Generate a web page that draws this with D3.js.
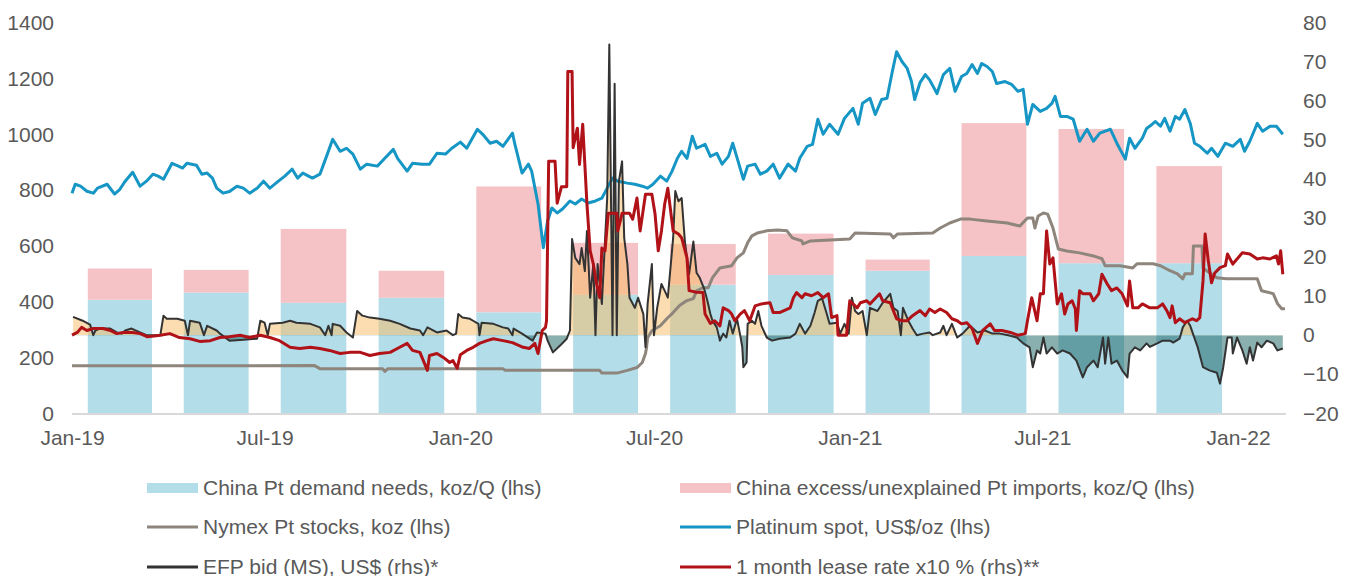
<!DOCTYPE html>
<html>
<head>
<meta charset="utf-8">
<script src="https://cdn.jsdelivr.net/npm/d3@7"></script>
<style>
  body { margin: 0; background: #fff; }
  text { font-family: "Liberation Sans", Arial, sans-serif; fill: #595959; }
</style>
</head>
<body>
<div id="chart"></div>
<script>
// all series dates are given as days since 1 Jan 2019
const startDate = new Date(2019, 0, 1);

// quarterly bars (koz/Q, lhs)
const quarters = ['2019-01-01','2019-04-01','2019-07-01','2019-10-01','2020-01-01','2020-04-01',
                  '2020-07-01','2020-10-01','2021-01-01','2021-04-01','2021-07-01','2021-10-01'];
const demandNeeds = [407, 433, 396, 414, 362, 425, 461, 496, 511, 564, 538, 538];
const excessImports = [112, 81, 265, 97, 451, 186, 146, 148, 40, 476, 481, 348];

// Platinum spot, US$/oz (lhs)
const spotSeries = [[0,789],[3,821],[8,814],[14,796],[20,789],[24,807],[33,821],[40,786],[45,803],[50,832],[57,864],[64,814],[70,832],[76,857],[81,850],[86,839],[94,896],[100,886],[104,879],[108,896],[117,889],[122,857],[127,861],[132,843],[136,807],[142,789],[148,795],[155,814],[161,807],[167,789],[174,807],[180,832],[186,807],[194,832],[200,850],[207,875],[212,843],[217,861],[226,843],[233,857],[240,929],[245,982],[252,939],[258,950],[264,929],[271,875],[277,893],[287,886],[294,914],[302,946],[306,914],[315,868],[320,896],[329,893],[336,893],[343,932],[351,929],[357,950],[365,972],[371,950],[381,1018],[386,1000],[393,968],[399,975],[405,957],[414,1004],[416,968],[423,861],[429,893],[432,868],[438,750],[443,593],[447,689],[451,736],[456,718],[461,732],[468,761],[473,750],[479,768],[485,754],[492,761],[498,771],[503,807],[508,843],[513,832],[522,825],[529,821],[536,814],[541,807],[546,821],[553,850],[559,832],[564,868],[569,914],[573,939],[578,914],[583,993],[587,950],[595,964],[600,921],[606,932],[611,893],[617,921],[621,968],[626,904],[631,839],[635,886],[642,893],[647,857],[653,868],[659,893],[665,843],[673,893],[680,868],[684,914],[691,957],[696,964],[701,1054],[706,1000],[712,1036],[720,1000],[726,1057],[734,1093],[739,1036],[743,1111],[750,1129],[755,1071],[761,1125],[766,1129],[771,1225],[775,1296],[780,1261],[785,1236],[789,1189],[792,1125],[797,1185],[802,1214],[806,1195],[813,1146],[819,1214],[825,1236],[830,1154],[836,1207],[841,1218],[846,1250],[851,1218],[855,1254],[860,1243],[865,1225],[869,1182],[877,1189],[883,1179],[889,1154],[894,1161],[898,1036],[903,1107],[910,1082],[916,1093],[921,1111],[924,1136],[929,1064],[935,1064],[941,1054],[947,975],[954,1018],[960,975],[966,1004],[976,1018],[982,968],[990,911],[994,986],[999,950],[1006,986],[1010,1021],[1015,1035],[1018,1046],[1023,1029],[1027,1057],[1032,1011],[1037,1064],[1041,1054],[1046,1089],[1051,1039],[1055,968],[1060,957],[1067,932],[1071,950],[1077,921],[1084,968],[1091,957],[1098,982],[1102,939],[1107,975],[1114,1039],[1119,1011],[1126,1029],[1132,1029],[1138,1000]];

// Nymex Pt stocks, koz (lhs)
const nymexSeries = [[0,170],[228,171],[233,160],[292,160],[294,150],[297,160],[405,160],[407,154],[496,154],[498,144],[512,144],[522,154],[531,164],[536,182],[539,214],[540,236],[541,271],[545,296],[553,314],[559,339],[565,361],[571,386],[578,404],[584,411],[587,439],[593,450],[598,450],[602,486],[609,521],[620,529],[625,557],[631,575],[635,611],[639,636],[644,646],[653,654],[663,657],[672,654],[677,629],[686,618],[687,607],[694,618],[731,625],[736,646],[769,643],[772,629],[776,643],[809,646],[816,664],[825,682],[835,696],[844,696],[860,689],[879,682],[891,671],[898,700],[903,700],[905,664],[908,707],[913,718],[917,714],[922,664],[927,589],[935,582],[947,575],[960,564],[968,554],[971,529],[985,529],[997,521],[1001,536],[1016,536],[1023,529],[1032,511],[1039,500],[1044,482],[1046,500],[1053,500],[1054,600],[1062,600],[1063,521],[1069,504],[1076,486],[1085,482],[1114,482],[1118,439],[1129,429],[1133,393],[1137,375],[1140,375]];

// EFP bid (MS), US$ (rhs)
const efpSeries = [[1,4.7],[10,3.7],[17,2.7],[20,0],[22,1.2],[26,1.7],[36,1.7],[42,0.7],[47,0.4],[50,1.2],[56,1.7],[64,0.7],[70,0],[83,0],[86,5],[89,4.2],[99,4.2],[106,3.7],[109,0],[111,3.7],[120,3.2],[124,0],[127,2.4],[136,1.2],[139,0.4],[148,-1.4],[161,-1.2],[174,-0.9],[177,3.7],[181,3.2],[184,0],[186,2.9],[198,3.2],[205,3.7],[211,3.2],[224,2.9],[233,2],[238,0],[241,2.4],[244,0],[245,2.9],[252,2.4],[258,0.7],[264,-0.6],[268,6.2],[273,5],[280,4.5],[289,4.2],[299,3.7],[308,2.9],[318,1.7],[327,1.2],[330,0],[334,2],[343,0.7],[352,1.2],[358,0],[361,0.4],[363,5.4],[367,4.5],[374,4.2],[377,3.7],[382,2.9],[383,0],[385,3.2],[396,2.9],[405,2],[410,1.7],[414,0],[415,1.7],[423,0.4],[430,-0.9],[433,-1.4],[437,0.7],[445,0.4],[447,-1.4],[452,-4.4],[459,-2.6],[465,-0.9],[468,1.2],[470,24.6],[473,19.8],[477,18.2],[479,22.3],[482,16.4],[484,26.7],[487,9.6],[490,18.2],[492,0],[494,18.2],[498,8],[500,19],[503,35.1],[505,74.4],[508,0],[510,64.4],[512,0],[514,39.4],[517,44.5],[519,24.9],[522,18.2],[524,9.6],[529,7],[532,9.6],[537,5.4],[539,-3.1],[541,8],[545,18.2],[547,0],[550,7],[554,13.1],[557,11.4],[560,9.6],[565,24.9],[567,36.9],[570,34.3],[573,35.1],[576,24.1],[580,15.6],[584,24],[587,16],[590,14.7],[594,12],[597,9],[600,5.4],[602,3.7],[606,2],[609,-1.4],[612,0.4],[615,-0.6],[618,3.7],[621,0.4],[625,4.2],[628,0],[630,-3.1],[631,-8.2],[634,-7],[635,2.9],[639,3.7],[642,2.9],[645,6.2],[648,2.4],[653,-0.6],[658,-1.4],[665,-0.9],[675,-0.6],[680,0.4],[684,2.9],[689,0.4],[694,2.4],[698,5.8],[701,8.8],[705,9.4],[709,5.8],[712,2.9],[719,3.2],[722,0.4],[726,2.9],[730,0.4],[733,9.6],[736,6.2],[739,5.4],[743,6.2],[747,0],[750,7],[757,6.2],[762,8.3],[769,10.6],[772,7],[776,6.2],[779,0],[781,7],[786,3.7],[790,1.7],[794,0],[800,0.4],[806,0.7],[809,0],[816,0.7],[819,2.4],[822,0],[827,2.9],[832,-0.6],[837,0.4],[844,2.4],[851,0.7],[858,1.2],[865,0.4],[872,0.4],[880,0],[888,-0.6],[894,-2.1],[900,-3.1],[903,-8.2],[907,-3.9],[910,-4.7],[913,-0.6],[916,-4.7],[921,-3.1],[926,-4.7],[931,-3.9],[938,-4.7],[944,-6.5],[950,-10.8],[954,-8.2],[960,-6.5],[964,-8.2],[969,-0.6],[971,-7.3],[974,-0.6],[977,-7.3],[982,-6.5],[987,-9],[992,-10.8],[994,-4.7],[999,-3.1],[1004,-3.9],[1010,-2.1],[1013,-3],[1020,-2.1],[1025,-1.4],[1032,-1.4],[1035,-1.9],[1041,-0.9],[1044,2],[1048,3.7],[1051,2.4],[1054,0],[1058,-3.1],[1063,-8.2],[1069,-9],[1076,-9.6],[1079,-12.4],[1082,-8.2],[1086,-0.6],[1090,-0.6],[1091,-4.7],[1095,-0.6],[1100,-3.9],[1104,-7.3],[1107,-3.1],[1110,-6.5],[1114,-1.9],[1118,-3.1],[1123,-1.4],[1129,-2.1],[1133,-3.9],[1138,-3.4]];

// 1 month lease rate x10 % (rhs)
const leaseSeries = [[0,0],[5,0.7],[9,2],[14,1.2],[20,1.7],[29,1.7],[36,1.2],[42,0.4],[48,0.7],[57,0.7],[64,0.4],[71,-0.4],[83,0],[92,0.4],[101,-0.6],[111,-0.9],[120,-1.6],[130,-1.4],[139,-0.6],[148,-0.4],[158,0],[167,-0.6],[177,0],[186,-0.6],[195,-1.4],[205,-3.1],[214,-3.4],[224,-3.1],[233,-3.4],[242,-3.9],[252,-4.7],[261,-4.4],[271,-4.4],[280,-5.2],[289,-4.7],[299,-4.4],[308,-3.1],[315,-2.1],[320,-3.9],[327,-4.4],[334,-9],[336,-5.2],[343,-4.7],[349,-5.7],[355,-7],[358,-6.5],[362,-8.5],[365,-5],[371,-3.9],[377,-3.1],[383,-2.1],[390,-1.4],[396,-0.9],[405,-1.4],[414,-1.9],[424,-3.1],[430,-3.4],[435,-2.1],[438,-4.7],[442,1.2],[445,2],[446,3.7],[448,44.5],[454,44.5],[456,33.8],[460,38],[465,38],[466,67.5],[470,67.5],[471,48],[475,53],[477,43.7],[480,54],[484,33.5],[487,21.6],[490,18.2],[493,13.1],[496,9.6],[498,22.3],[501,21.6],[504,31.2],[512,31.2],[513,26.7],[517,31.2],[524,31.2],[527,29.7],[531,35.1],[534,26.7],[539,36.1],[545,36.1],[548,31],[551,21.6],[554,26.7],[557,33.5],[560,37.6],[565,26.7],[570,25.9],[573,24.9],[578,19.8],[580,11.4],[587,11],[593,10.9],[595,5.4],[600,3],[604,3.7],[609,2.4],[612,7],[617,6.3],[620,5.4],[623,3.7],[628,5.4],[632,6.3],[637,3.7],[642,7.5],[648,8],[656,8.3],[659,5.8],[665,5.8],[675,7],[678,9.6],[681,10.9],[686,9.6],[689,10.6],[695,10.1],[701,10.9],[706,9.6],[711,10.6],[714,4.5],[719,5],[720,0],[728,0],[731,8.8],[738,7],[741,8.3],[747,8.8],[750,8],[759,10.6],[762,8.8],[769,8.3],[775,4.2],[780,3.7],[785,3.7],[790,5],[797,6.3],[802,5],[806,6.7],[811,5.8],[816,6.7],[822,5.8],[827,4.2],[832,3.7],[836,2.9],[841,3.2],[846,1.7],[851,-2.1],[856,1.2],[863,2.9],[867,1.2],[874,1.2],[882,0.7],[889,0],[896,0.4],[898,3.7],[902,9.6],[907,3.7],[910,10.6],[913,10.6],[916,26.7],[919,18.2],[922,19.8],[926,8],[930,10.6],[933,5.4],[936,8],[940,8.8],[943,6.7],[944,1.2],[947,11.4],[950,10.6],[957,10.6],[960,8.8],[965,10.6],[968,15.6],[973,13.1],[977,11.4],[982,12.1],[987,10.6],[992,7.5],[994,13.9],[997,7],[1002,7],[1006,8],[1013,7],[1020,7],[1025,8],[1029,6.3],[1032,4.5],[1034,7.5],[1037,3.2],[1041,4.2],[1046,3.2],[1053,4.2],[1057,3.7],[1060,4.5],[1063,13.9],[1065,25.9],[1068,19],[1071,13.4],[1074,15.9],[1079,17.3],[1084,17.8],[1086,20.8],[1091,18.2],[1100,21.1],[1107,20.8],[1114,19.5],[1119,19.8],[1126,19.5],[1132,20.3],[1134,18.2],[1136,21.6],[1138,15.6]];

const lhsTicks = [0, 200, 400, 600, 800, 1000, 1200, 1400];
const rhsTicks = [-20, -10, 0, 10, 20, 30, 40, 50, 60, 70, 80];

const legendItems = [
  {label: 'China Pt demand needs, koz/Q (lhs)', type: 'bar', color: '#b3dde9'},
  {label: 'China excess/unexplained Pt imports, koz/Q (lhs)', type: 'bar', color: '#f5c2c5'},
  {label: 'Nymex Pt stocks, koz (lhs)', type: 'line', color: '#8e857c'},
  {label: 'Platinum spot, US$/oz (lhs)', type: 'line', color: '#1696c4'},
  {label: 'EFP bid (MS), US$ (rhs)*', type: 'line', color: '#333333'},
  {label: '1 month lease rate x10 % (rhs)**', type: 'line', color: '#b01218'}
];

const width = 1347;
const height = 576;
const parseDate = d3.timeParse('%Y-%m-%d');
const dayToDate = n => d3.timeDay.offset(startDate, n);

const svg = d3.select('#chart').append('svg')
  .attr('width', width).attr('height', height);

const x = d3.scaleTime()
  .domain([startDate, dayToDate(1141)])
  .range([72, 1286]);
const yL = d3.scaleLinear().domain([0, 1400]).range([413.3, 22.7]);
const yR = d3.scaleLinear().domain([-20, 80]).range([413.3, 22.7]);

// quarterly stacked bars
const barData = quarters.map((q, i) => {
  const qs = parseDate(q);
  return {start: qs, end: d3.timeMonth.offset(qs, 3), demand: demandNeeds[i], excess: excessImports[i]};
});
const bars = svg.append('g').attr('class', 'bars');
bars.selectAll('rect.demand')
  .data(barData).enter().append('rect')
  .attr('class', 'demand')
  .attr('x', d => x(d.start) + (x(d.end) - x(d.start)) * 0.165)
  .attr('width', d => (x(d.end) - x(d.start)) * 0.67)
  .attr('y', d => yL(d.demand))
  .attr('height', d => yL(0) - yL(d.demand))
  .attr('fill', '#b3dde9');
bars.selectAll('rect.excess')
  .data(barData).enter().append('rect')
  .attr('class', 'excess')
  .attr('x', d => x(d.start) + (x(d.end) - x(d.start)) * 0.165)
  .attr('width', d => (x(d.end) - x(d.start)) * 0.67)
  .attr('y', d => yL(d.demand + d.excess))
  .attr('height', d => yL(d.demand) - yL(d.demand + d.excess))
  .attr('fill', '#f5c2c5');

// EFP shaded area: above zero tan, below zero teal
const defs = svg.append('defs');
defs.append('clipPath').attr('id', 'clip-pos')
  .append('rect').attr('x', 0).attr('y', 0).attr('width', width).attr('height', yR(0));
defs.append('clipPath').attr('id', 'clip-neg')
  .append('rect').attr('x', 0).attr('y', yR(0)).attr('width', width).attr('height', height - yR(0));

const efpArea = d3.area()
  .x(d => x(dayToDate(d[0])))
  .y0(yR(0))
  .y1(d => yR(d[1]));
svg.append('path').datum(efpSeries)
  .attr('d', efpArea)
  .attr('clip-path', 'url(#clip-pos)')
  .attr('fill', 'rgba(250,188,100,0.5)');
svg.append('path').datum(efpSeries)
  .attr('d', efpArea)
  .attr('clip-path', 'url(#clip-neg)')
  .attr('fill', 'rgba(20,95,95,0.5)');

// x axis base line
svg.append('line')
  .attr('x1', 72).attr('x2', 1286)
  .attr('y1', 414).attr('y2', 414)
  .attr('stroke', '#d9d9d9').attr('stroke-width', 2);

// lines
const lineL = d3.line().x(d => x(dayToDate(d[0]))).y(d => yL(d[1]));
const lineR = d3.line().x(d => x(dayToDate(d[0]))).y(d => yR(d[1]));

svg.append('path').datum(nymexSeries)
  .attr('d', lineL).attr('fill', 'none')
  .attr('stroke', '#8e857c').attr('stroke-width', 3).attr('stroke-linejoin', 'round');
svg.append('path').datum(spotSeries)
  .attr('d', lineL).attr('fill', 'none')
  .attr('stroke', '#1696c4').attr('stroke-width', 3).attr('stroke-linejoin', 'round');
svg.append('path').datum(efpSeries)
  .attr('d', lineR).attr('fill', 'none')
  .attr('stroke', '#333333').attr('stroke-width', 2).attr('stroke-linejoin', 'round');
svg.append('path').datum(leaseSeries)
  .attr('d', lineR).attr('fill', 'none')
  .attr('stroke', '#b01218').attr('stroke-width', 3).attr('stroke-linejoin', 'round');

// axes
const leftAxis = svg.append('g')
  .attr('transform', 'translate(72,0)')
  .call(d3.axisLeft(yL).tickValues(lhsTicks).tickSize(0).tickPadding(18).tickFormat(d3.format('d')));
const rightAxis = svg.append('g')
  .attr('transform', 'translate(1286,0)')
  .call(d3.axisRight(yR).tickValues(rhsTicks).tickSize(0).tickPadding(17).tickFormat(d3.format('d')));
const bottomAxis = svg.append('g')
  .attr('transform', 'translate(0,413)')
  .call(d3.axisBottom(x).ticks(d3.timeMonth.every(6)).tickSize(0).tickPadding(17).tickFormat(d3.timeFormat('%b-%y')));

[leftAxis, rightAxis, bottomAxis].forEach(g => {
  g.select('.domain').remove();
  g.selectAll('text').attr('font-size', 21).attr('font-family', '"Liberation Sans", Arial, sans-serif').attr('fill', '#595959');
});

// legend
const legend = svg.append('g').attr('class', 'legend');
const legendCols = [147, 680];
const legendRows = [488, 527, 567];
legendItems.forEach((item, i) => {
  const lx = legendCols[i % 2];
  const ly = legendRows[Math.floor(i / 2)];
  if (item.type === 'bar') {
    legend.append('rect')
      .attr('x', lx).attr('y', ly - 5).attr('width', 51).attr('height', 10)
      .attr('fill', item.color);
  } else {
    legend.append('line')
      .attr('x1', lx).attr('x2', lx + 51).attr('y1', ly).attr('y2', ly)
      .attr('stroke', item.color).attr('stroke-width', 3);
  }
  legend.append('text')
    .attr('x', lx + 56).attr('y', ly)
    .attr('dy', '0.35em')
    .attr('font-size', 21)
    .text(item.label);
});
</script>
</body>
</html>
